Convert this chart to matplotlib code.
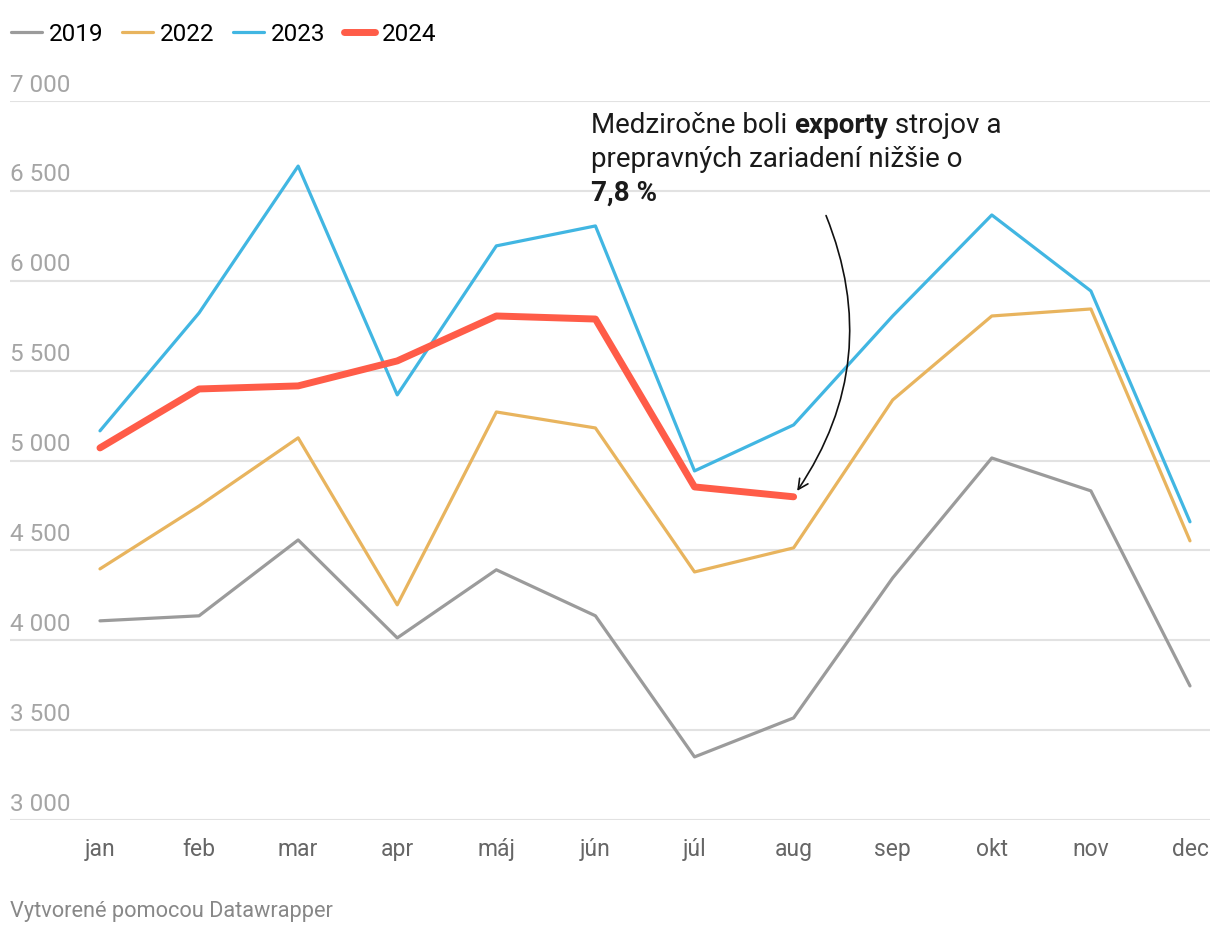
import matplotlib
matplotlib.use("Agg")
import matplotlib.pyplot as plt
import numpy as np

plt.rcParams["font.family"] = ["Roboto", "DejaVu Sans"]

# Data
months = ["jan", "feb", "mar", "apr", "máj", "jún", "júl", "aug", "sep", "okt", "nov", "dec"]
v2019 = [4108, 4136, 4558, 4013, 4392, 4136, 3351, 3568, 4347, 5014, 4831, 3746]
v2022 = [4397, 4747, 5126, 4197, 5270, 5181, 4380, 4514, 5337, 5804, 5843, 4553]
v2023 = [5165, 5821, 6638, 5365, 6194, 6305, 4942, 5198, 5804, 6366, 5943, 4659]
v2024 = [5070, 5398, 5415, 5554, 5804, 5787, 4853, 4798]
yticks = [3000, 3500, 4000, 4500, 5000, 5500, 6000, 6500, 7000]

# Colors
C2019 = "#9b9b9b"
C2022 = "#e8b45e"
C2023 = "#41b6e2"
C2024 = "#ff5c48"
GRID = "#e2e2e2"

W, H = 1220, 936
fig = plt.figure(figsize=(W / 100, H / 100), dpi=100)
ax = fig.add_axes([10 / W, (H - 820) / H, 1200 / W, (820 - 101) / H])

x = np.arange(len(months))
ax.plot(x, v2019, color=C2019, lw=2.3, label="2019", solid_capstyle="round", zorder=3)
ax.plot(x, v2022, color=C2022, lw=2.3, label="2022", solid_capstyle="round", zorder=3)
ax.plot(x, v2023, color=C2023, lw=2.3, label="2023", solid_capstyle="round", zorder=3)
ax.plot(x[:len(v2024)], v2024, color=C2024, lw=5, label="2024",
        solid_capstyle="round", solid_joinstyle="round", zorder=4)

ax.set_xlim(-0.908, 11.202)
ax.set_ylim(3000, 7000)
for s in ax.spines.values():
    s.set_visible(False)

# Gridlines + labels sitting above them
ax.set_yticks(yticks)
ax.set_yticklabels([])
ax.tick_params(axis="y", length=0)
for t in yticks:
    ax.axhline(t, color=GRID, lw=1.5, zorder=1)
    ax.text(0, t + 25, f"{t:,}".replace(",", " "), transform=ax.get_yaxis_transform(),
            ha="left", va="bottom", fontsize=17.5, color="#a5a5a5")

ax.set_xticks(x)
ax.set_xticklabels(months, fontsize=16.5, color="#666666")
ax.tick_params(axis="x", length=0, pad=13)

# Legend
fig.legend(loc="upper left", bbox_to_anchor=(-0.009, 0.999), ncol=4, frameon=False,
           fontsize=17.5, handlelength=1.28, handletextpad=0.28, columnspacing=0.76)

# Annotation text (mixed weights)
renderer = fig.canvas.get_renderer()
def rich_line(parts, x0, y0):
    xp = x0
    for s, bold in parts:
        t = fig.text(xp / W, 1 - y0 / H, s, fontsize=20, color="#1a1a1a",
                     fontweight="bold" if bold else "normal", va="baseline", ha="left")
        bb = t.get_window_extent(renderer=renderer)
        xp += bb.width

rich_line([("Medziročne boli ", False), ("exporty", True), (" strojov a", False)], 591, 133)
rich_line([("prepravných zariadení nižšie o", False)], 591, 167)
rich_line([("7,8 %", True)], 591, 201)

# Curved arrow to the last 2024 point
ax.annotate("", xy=(7.02, 4818), xycoords="data",
            xytext=(825 / W, 1 - 213 / H), textcoords="figure fraction",
            arrowprops=dict(arrowstyle="->", color="#111111", lw=1.2,
                            connectionstyle="arc3,rad=-0.27", mutation_scale=18),
            zorder=5)

fig.text(10 / W, 1 - 912 / H, "Vytvorené pomocou Datawrapper", fontsize=15.7,
         color="#888888", va="center", ha="left")

fig.savefig("out.png", dpi=100, facecolor="white")
